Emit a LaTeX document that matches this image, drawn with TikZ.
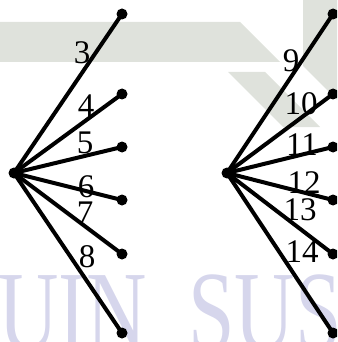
\documentclass[tikz,border=0pt]{standalone}
\usepackage{fontspec}
\setmainfont{Liberation Serif}
\definecolor{wmgray}{RGB}{223,226,220}
\definecolor{wmblue}{RGB}{214,214,236}
\tikzset{
  dot/.style={circle,fill=black,inner sep=0pt,minimum size=11pt},
  edge/.style={line width=4pt},
  num/.style={inner sep=0pt,font=\fontsize{33}{33}\selectfont},
  wm/.style={inner sep=0pt,text=wmblue,font=\fontsize{88}{88}\selectfont,xscale=0.95,yscale=1.3,transform shape,anchor=base west}
}
\begin{document}
\begin{tikzpicture}[x=1pt,y=-1pt]
\useasboundingbox (0,0) rectangle (337,342);
\clip (0,0) rectangle (337,342);
% watermark
\fill[wmgray] (0,22) -- (240,22) -- (280,62) -- (0,62) -- cycle;
\fill[wmgray] (228,72) -- (265,72) -- (320,127) -- (283,127) -- cycle;
\fill[wmgray] (303,0) -- (337,0) -- (337,100) -- (303,66) -- cycle;
\node[wm] (wmA) at (-2,350) {UIN};
\node[wm] (wmB) at (188,350) {SUS};
% left star
\node[dot] (L) at (14,173) {};
\node[dot] (La) at (122,14) {};
\node[dot] (Lb) at (122,94) {};
\node[dot] (Lc) at (122,147) {};
\node[dot] (Ld) at (122,200) {};
\node[dot] (Le) at (122,254) {};
\node[dot] (Lf) at (122,333) {};
\foreach \t in {La,Lb,Lc,Ld,Le,Lf} \draw[edge] (L.center) -- (\t.center);
\node[num] (n3) at (82,53) {3};
\node[num] (n4) at (86,106) {4};
\node[num] (n5) at (85,143) {5};
\node[num] (n6) at (86,187) {6};
\node[num] (n7) at (85,213) {7};
\node[num] (n8) at (87,257) {8};
% right star
\node[dot] (R) at (227,173) {};
\node[dot] (Ra) at (333,14) {};
\node[dot] (Rb) at (333,94) {};
\node[dot] (Rc) at (333,147) {};
\node[dot] (Rd) at (333,200) {};
\node[dot] (Re) at (333,254) {};
\node[dot] (Rf) at (333,333) {};
\foreach \t in {Ra,Rb,Rc,Rd,Re,Rf} \draw[edge] (R.center) -- (\t.center);
\node[num] (n9) at (291,61) {9};
\node[num] (n10) at (301,104) {10};
\node[num] (n11) at (302,145) {11};
\node[num] (n12) at (304,183) {12};
\node[num] (n13) at (300,210) {13};
\node[num] (n14) at (302,252) {14};
\end{tikzpicture}
\end{document}
